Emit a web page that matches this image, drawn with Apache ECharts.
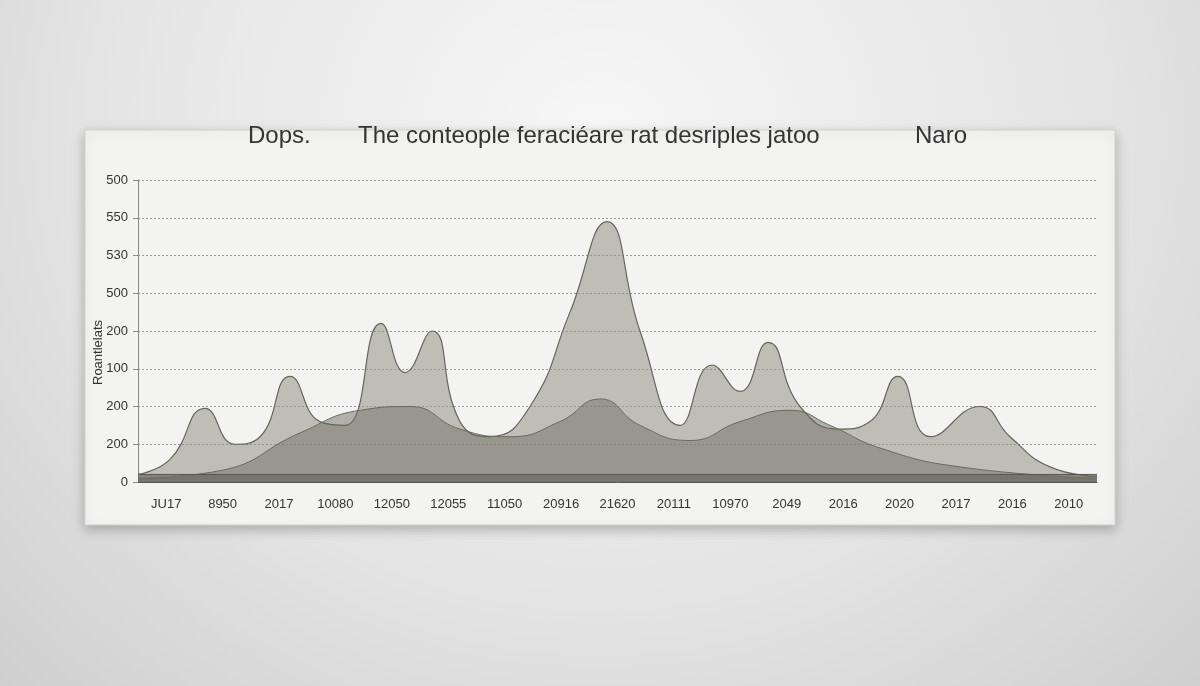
<!DOCTYPE html>
<html><head><meta charset="utf-8">
<script src="https://cdn.jsdelivr.net/npm/echarts@6/dist/echarts.min.js"></script>
<style>
html,body{margin:0;height:100%;background:radial-gradient(ellipse at 50% 20%,#f7f7f7 0%,#e4e4e4 60%,#cfcfcf 100%);}
#main{width:1200px;height:686px;}
</style></head>
<body><div id="main"></div>
<script>
var xLabels = ["JU17","8950","2017","10080","12050","12055","11050","20916","21620","20111","10970","2049","2016","2020","2017","2016","2010"];
var yLabels = ["0","200","200","100","200","500","530","550","500"];
// peaked series: [x, y]
var peaks = [[0,0.2],[3.2,0.6],[6.7,1.95],[9.7,1.0],[12.2,1.2],[15.2,2.8],[18.2,1.6],[20.7,1.5],[24.3,4.2],[26.7,2.9],[29.4,4.0],[32.2,1.6],[35.2,1.2],[39.2,2.0],[43.2,4.5],[46.9,6.9],[50.2,4.0],[54.2,1.5],[57.4,3.1],[60.2,2.4],[63,3.7],[66.2,2.0],[70.2,1.4],[73.2,1.6],[76,2.8],[79.2,1.2],[84.2,2.0],[87.2,1.2],[91.2,0.4],[95.9,0.15]];
var broad = [[0,0.1],[8.2,0.3],[16.2,1.3],[22.2,1.9],[27.2,2.0],[32.2,1.4],[37.2,1.2],[42.2,1.6],[46.2,2.2],[50.2,1.5],[55.2,1.1],[60.2,1.6],[65.2,1.9],[69.2,1.5],[74.2,0.9],[82.2,0.4],[95.9,0.1]];
var base = [[0,0.2],[20,0.2],[40,0.2],[60,0.2],[80,0.2],[95.9,0.2]];

var chart = echarts.init(document.getElementById("main"));
var option = {
    graphic: [
        {type:"rect",z:-1,shape:{x:85,y:130,width:1030,height:395},style:{fill:"#f3f3f2",stroke:"#d0d0d0",shadowBlur:12,shadowColor:"rgba(0,0,0,0.25)",shadowOffsetY:4}},
        {type:"text",left:248,top:124,style:{text:"Dops.",font:"24px Liberation Sans",fill:"#333"}},
        {type:"text",left:358,top:124,style:{text:"The conteople ferаciéare rat desriples jatoo",font:"24px Liberation Sans",fill:"#333"}},
        {type:"text",left:915,top:124,style:{text:"Naro",font:"24px Liberation Sans",fill:"#333"}},
        {type:"text",x:92,y:385,rotation:Math.PI/2,style:{text:"Roantlelats",font:"13px Liberation Sans",fill:"#333"}}
    ],
    grid: {left: 138, right: 103, top: 180, bottom: 204},
    xAxis: [
        {type:"category",data:xLabels,boundaryGap:true,axisLine:{lineStyle:{color:"#555"}},axisTick:{show:false},
         axisLabel:{color:"#333",fontSize:13,margin:16}},
        {type:"value",min:0,max:95.9,show:false}
    ],
    yAxis: {type:"value",min:0,max:8,interval:1,
        axisLine:{show:true,lineStyle:{color:"#888"}},
        splitLine:{lineStyle:{color:"#999",type:[2,2]}},
        axisLabel:{color:"#333",fontSize:13,margin:10,formatter:function(v){return yLabels[v];}}},
    series: [
        {type:"line",xAxisIndex:1,data:peaks,smooth:0.5,symbol:"none",
         lineStyle:{color:"#66665e",width:1.2},areaStyle:{color:"rgba(150,148,136,0.8)"}},
        {type:"line",xAxisIndex:1,data:broad,smooth:0.5,symbol:"none",
         lineStyle:{color:"#6b6a60",width:1},areaStyle:{color:"rgba(118,116,104,0.75)"}},
        {type:"line",xAxisIndex:1,data:base,symbol:"none",
         lineStyle:{color:"#555",width:1},areaStyle:{color:"rgba(95,93,84,0.85)"}}
    ]
};
chart.setOption(option);
</script></body></html>
